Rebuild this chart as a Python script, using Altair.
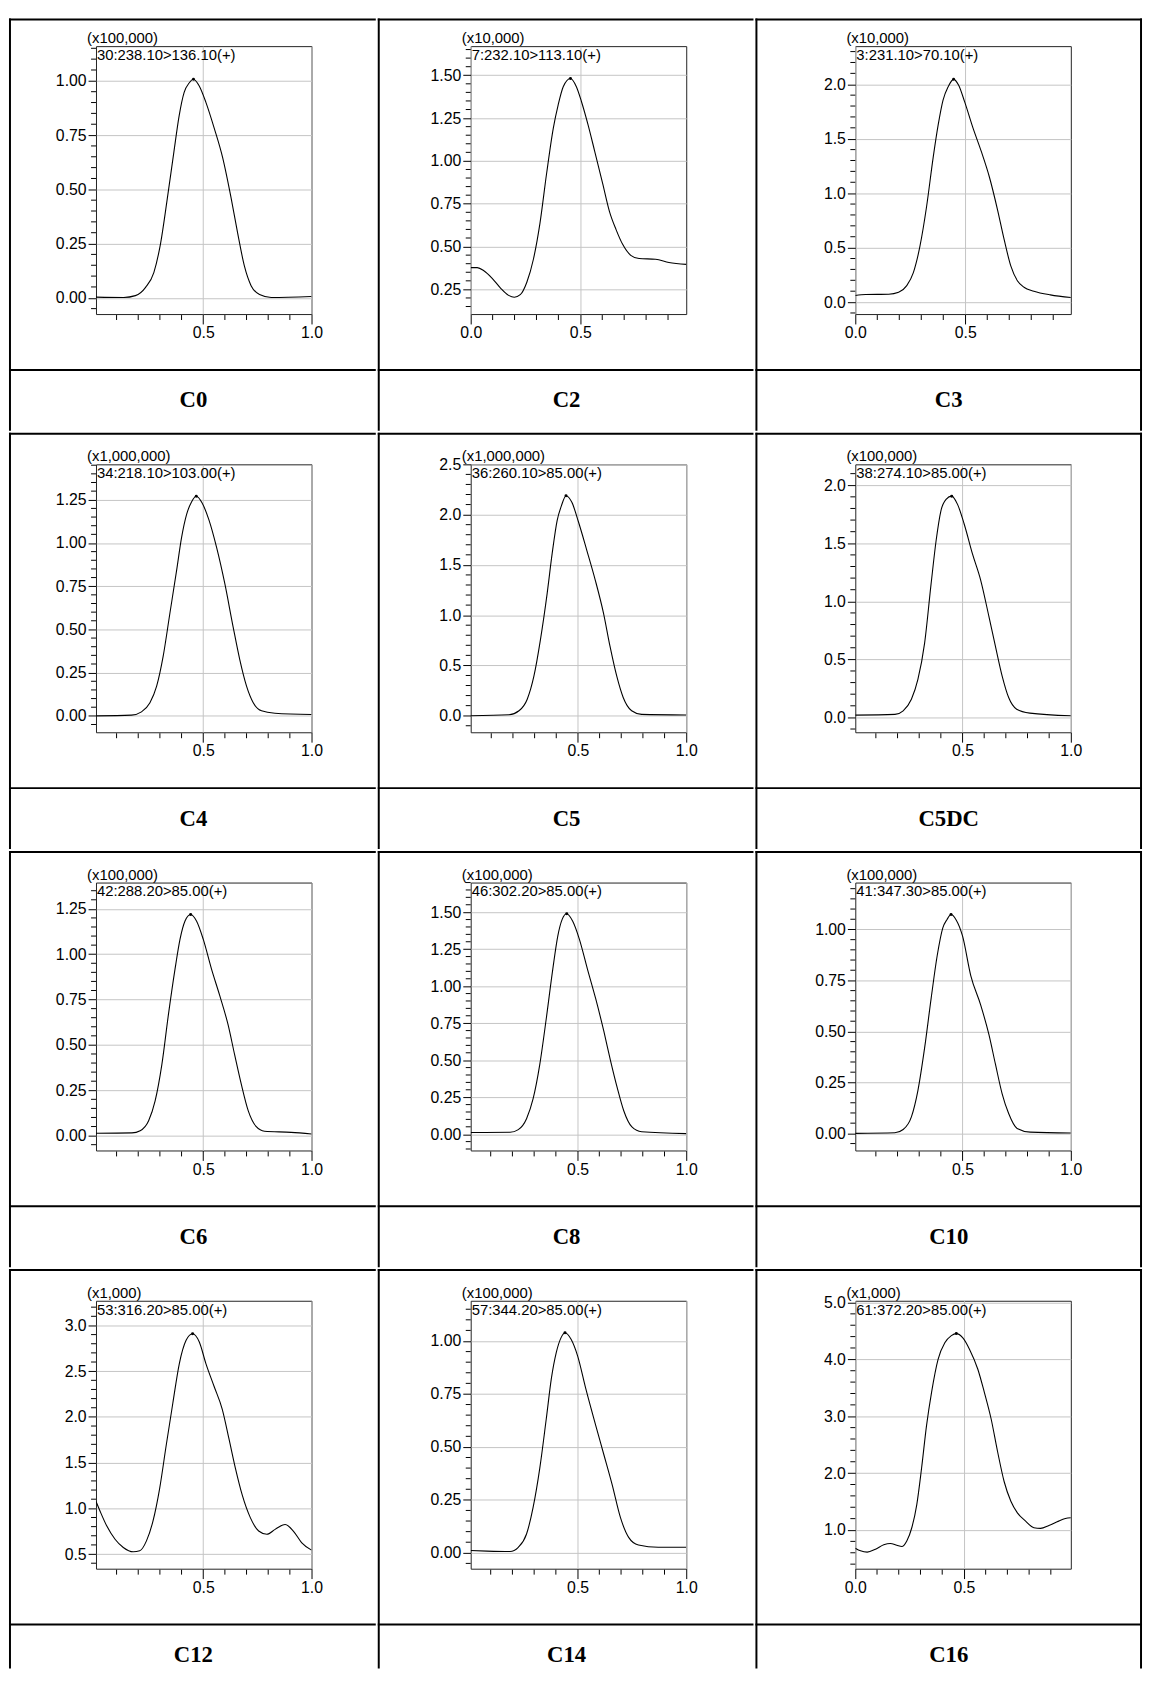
import math
import altair as alt
import pandas as pd

# ---------------- data ----------------
NAMES = ["C0", "C2", "C3", "C4", "C5", "C5DC", "C6", "C8", "C10", "C12", "C14", "C16"]
MULT = ["(x100,000)", "(x10,000)", "(x10,000)", "(x1,000,000)", "(x1,000,000)", "(x100,000)",
        "(x100,000)", "(x100,000)", "(x100,000)", "(x1,000)", "(x100,000)", "(x1,000)"]
MRM = ["30:238.10>136.10(+)", "7:232.10>113.10(+)", "3:231.10>70.10(+)",
       "34:218.10>103.00(+)", "36:260.10>85.00(+)", "38:274.10>85.00(+)",
       "42:288.20>85.00(+)", "46:302.20>85.00(+)", "41:347.30>85.00(+)",
       "53:316.20>85.00(+)", "57:344.20>85.00(+)", "61:372.20>85.00(+)"]

Y_LO = [-0.075, 0.106, -0.11, -0.095, -0.165, -0.128, -0.082, -0.11, -0.084, 0.34, -0.075, 0.32]
Y_HI = [1.16, 1.67, 2.35, 1.455, 2.5, 2.18, 1.395, 1.70, 1.23, 3.27, 1.19, 5.03]
Y_MAJOR = [0.25, 0.25, 0.5, 0.25, 0.5, 0.5, 0.25, 0.25, 0.25, 0.5, 0.25, 1.0]
Y_MINOR = [0.05, 0.05, 0.1, 0.05, 0.1, 0.1, 0.05, 0.05, 0.05, 0.1, 0.05, 0.2]
Y_FMT = [".2f", ".2f", ".1f", ".2f", ".1f", ".1f", ".2f", ".2f", ".2f", ".1f", ".2f", ".1f"]
X_LO = [0.005, 0.0, 0.0, 0.005, 0.005, 0.005, 0.005, 0.008, 0.005, 0.005, 0.008, 0.0]
X_HI = [1.0, 0.983, 0.98, 1.0, 1.0, 1.0, 1.0, 1.0, 1.0, 1.0, 1.0, 0.992]

C0_T = [0.005, 0.133, 0.187, 0.234, 0.272, 0.303, 0.334, 0.365, 0.389, 0.412, 0.435, 0.455, 0.481,
        0.512, 0.551, 0.59, 0.628, 0.659, 0.69, 0.721, 0.76, 0.814, 1.0]
C0_V = [0.003, 0.0015, 0.01, 0.048, 0.116, 0.25, 0.456, 0.675, 0.84, 0.947, 0.99, 1.007, 0.977,
        0.902, 0.781, 0.645, 0.464, 0.298, 0.147, 0.056, 0.015, 0.0015, 0.006]

C2_T = [0.0, 0.030, 0.060, 0.098, 0.136, 0.173, 0.199, 0.226, 0.256, 0.286, 0.316, 0.346, 0.377,
        0.399, 0.422, 0.455, 0.482, 0.505, 0.535, 0.565, 0.602, 0.633, 0.663, 0.693, 0.730, 0.768,
        0.843, 0.904, 0.983]
C2_V = [0.377, 0.377, 0.359, 0.315, 0.258, 0.215, 0.204, 0.219, 0.292, 0.426, 0.637, 0.925, 1.193,
        1.327, 1.433, 1.481, 1.433, 1.347, 1.212, 1.059, 0.867, 0.704, 0.599, 0.513, 0.449, 0.430,
        0.426, 0.407, 0.396]

C3_T = [0.0, 0.047, 0.152, 0.197, 0.234, 0.264, 0.294, 0.324, 0.354, 0.377, 0.399, 0.422, 0.447,
        0.470, 0.497, 0.535, 0.572, 0.610, 0.647, 0.677, 0.707, 0.737, 0.767, 0.812, 0.887, 0.98]
C3_V = [0.06, 0.069, 0.072, 0.09, 0.151, 0.271, 0.513, 0.875, 1.327, 1.629, 1.855, 1.976, 2.045,
        1.991, 1.84, 1.599, 1.388, 1.146, 0.845, 0.573, 0.332, 0.196, 0.136, 0.10, 0.066, 0.042]

C4_T = [0.005, 0.169, 0.215, 0.254, 0.285, 0.315, 0.346, 0.377, 0.40, 0.423, 0.446, 0.468, 0.495,
        0.526, 0.562, 0.60, 0.638, 0.669, 0.70, 0.731, 0.769, 0.831, 1.0]
C4_V = [0.0, 0.004, 0.023, 0.076, 0.172, 0.344, 0.592, 0.84, 1.031, 1.164, 1.237, 1.27, 1.231,
        1.135, 0.973, 0.763, 0.515, 0.324, 0.172, 0.076, 0.029, 0.015, 0.008]

C5_T = [0.005, 0.182, 0.228, 0.266, 0.297, 0.327, 0.358, 0.381, 0.404, 0.424, 0.445, 0.472, 0.503,
        0.541, 0.58, 0.618, 0.648, 0.679, 0.709, 0.748, 0.794, 1.0]
C5_V = [0.0, 0.01, 0.049, 0.164, 0.395, 0.757, 1.217, 1.612, 1.941, 2.089, 2.188, 2.122, 1.924,
        1.645, 1.349, 1.02, 0.691, 0.395, 0.181, 0.049, 0.013, 0.007]

C5DC_T = [0.005, 0.188, 0.226, 0.264, 0.294, 0.325, 0.355, 0.378, 0.40, 0.424, 0.45, 0.477, 0.508,
          0.546, 0.584, 0.622, 0.652, 0.683, 0.713, 0.75, 0.811, 1.0]
C5DC_V = [0.02, 0.026, 0.057, 0.156, 0.327, 0.64, 1.152, 1.522, 1.778, 1.878, 1.906, 1.835, 1.664,
          1.408, 1.181, 0.868, 0.612, 0.356, 0.171, 0.071, 0.037, 0.014]

C6_T = [0.005, 0.171, 0.209, 0.248, 0.278, 0.309, 0.339, 0.37, 0.393, 0.416, 0.442, 0.469, 0.50,
        0.538, 0.576, 0.615, 0.645, 0.676, 0.708, 0.745, 0.783, 0.906, 1.0]
C6_V = [0.013, 0.015, 0.027, 0.082, 0.191, 0.391, 0.664, 0.919, 1.083, 1.183, 1.219, 1.183, 1.083,
        0.919, 0.773, 0.61, 0.446, 0.282, 0.136, 0.049, 0.024, 0.018, 0.009]

C8_T = [0.008, 0.189, 0.227, 0.265, 0.295, 0.326, 0.356, 0.386, 0.409, 0.429, 0.45, 0.477, 0.508,
        0.545, 0.583, 0.621, 0.652, 0.682, 0.712, 0.75, 0.795, 1.0]
C8_V = [0.011, 0.013, 0.031, 0.105, 0.238, 0.472, 0.783, 1.117, 1.34, 1.451, 1.489, 1.44, 1.318,
        1.117, 0.917, 0.694, 0.494, 0.316, 0.16, 0.049, 0.016, 0.004]

C10_T = [0.005, 0.188, 0.226, 0.264, 0.294, 0.325, 0.355, 0.383, 0.409, 0.428, 0.447, 0.47, 0.50,
         0.538, 0.584, 0.622, 0.652, 0.683, 0.713, 0.752, 0.813, 1.0]
C10_V = [0.0, 0.003, 0.019, 0.081, 0.21, 0.419, 0.661, 0.871, 1.008, 1.048, 1.073, 1.048, 0.968,
         0.774, 0.629, 0.484, 0.339, 0.194, 0.097, 0.024, 0.006, 0.002]

C12_T = [0.005, 0.024, 0.055, 0.093, 0.131, 0.177, 0.207, 0.238, 0.268, 0.299, 0.329, 0.36, 0.39,
         0.421, 0.451, 0.482, 0.512, 0.55, 0.588, 0.619, 0.649, 0.68, 0.718, 0.756, 0.794, 0.832,
         0.878, 0.916, 0.954, 1.0]
C12_V = [1.076, 0.968, 0.806, 0.662, 0.572, 0.525, 0.536, 0.644, 0.86, 1.219, 1.687, 2.155, 2.586,
         2.838, 2.91, 2.82, 2.586, 2.335, 2.083, 1.759, 1.435, 1.147, 0.896, 0.752, 0.716, 0.77,
         0.824, 0.752, 0.626, 0.543]

C14_T = [0.008, 0.083, 0.189, 0.227, 0.265, 0.295, 0.326, 0.356, 0.379, 0.402, 0.424, 0.442, 0.47,
         0.50, 0.538, 0.583, 0.621, 0.659, 0.697, 0.735, 0.78, 0.871, 1.0]
C14_V = [0.011, 0.008, 0.006, 0.026, 0.089, 0.213, 0.40, 0.634, 0.821, 0.946, 1.016, 1.039, 1.008,
         0.93, 0.774, 0.603, 0.463, 0.322, 0.167, 0.073, 0.037, 0.026, 0.026]

C16_T = [0.0, 0.024, 0.055, 0.093, 0.131, 0.161, 0.191, 0.214, 0.237, 0.26, 0.283, 0.305, 0.328,
         0.351, 0.381, 0.412, 0.442, 0.465, 0.495, 0.526, 0.564, 0.594, 0.625, 0.655, 0.685, 0.716,
         0.746, 0.784, 0.822, 0.853, 0.891, 0.929, 0.967, 0.992]
C16_V = [0.681, 0.634, 0.611, 0.663, 0.739, 0.762, 0.733, 0.71, 0.808, 1.04, 1.447, 2.085, 2.84,
         3.42, 4.0, 4.29, 4.418, 4.453, 4.378, 4.175, 3.826, 3.42, 2.956, 2.376, 1.853, 1.505,
         1.302, 1.157, 1.04, 1.029, 1.081, 1.145, 1.203, 1.215]

SERIES_T = [C0_T, C2_T, C3_T, C4_T, C5_T, C5DC_T, C6_T, C8_T, C10_T, C12_T, C14_T, C16_T]
SERIES_V = [C0_V, C2_V, C3_V, C4_V, C5_V, C5DC_V, C6_V, C8_V, C10_V, C12_V, C14_V, C16_V]

X_MAJOR = 0.5
X_MINOR = 0.1

# ---------------- layout / style ----------------
PLOT_W, PLOT_H = 218, 271
COL_L = [87, 93, 100]       # frame-left to cell border
COL_R = [66, 69, 71]        # frame-left+width to next border
ROW_T = [27, 31, 31, 31]    # border above frame
ROW_B = 390                 # next border below frame top
LAST_B = 372
DIV_Y = 327.5
LAB_Y = 358.5
SANS = "Liberation Sans"
SERIF = "Liberation Serif"
GRID = "#c4c4c4"

one = pd.DataFrame({"k": [0]})


def steps(lo, hi, step):
    k0 = math.ceil(lo / step - 1e-9)
    k1 = math.floor(hi / step + 1e-9)
    return [round(k * step, 6) for k in range(k0, k1 + 1)]


def is_major(v, major):
    return abs(v / major - round(v / major)) < 1e-6


def bar(x1, x2, y1, y2):
    # table border drawn as a filled 2px rectangle (exact bounds, no stroke growth)
    return alt.Chart(one).mark_rect(color="#000", strokeWidth=0).encode(
        x=alt.value(x1), x2=alt.value(x2), y=alt.value(y1), y2=alt.value(y2))


def cell(i):
    r, c = divmod(i, 3)
    L, R, T = COL_L[c], COL_R[c], ROW_T[r]
    last = r == 3
    B = LAST_B if last else ROW_B
    xl, xr = -L, PLOT_W + R

    ally = steps(Y_LO[i], Y_HI[i], Y_MINOR[i])
    y_major = [v for v in ally if is_major(v, Y_MAJOR[i])]
    y_minor = [v for v in ally if not is_major(v, Y_MAJOR[i])]
    allx = steps(X_LO[i], X_HI[i], X_MINOR)
    x_major = [v for v in allx if is_major(v, X_MAJOR)]
    x_minor = [v for v in allx if not is_major(v, X_MAJOR)]

    df = pd.DataFrame({"t": SERIES_T[i], "v": SERIES_V[i]})
    kmax = max(range(len(SERIES_V[i])), key=lambda k: SERIES_V[i][k])
    peak = pd.DataFrame({"t": [SERIES_T[i][kmax]], "v": [SERIES_V[i][kmax]]})

    xs = alt.Scale(domain=[X_LO[i], X_HI[i]], nice=False, zero=False)
    ys = alt.Scale(domain=[Y_LO[i], Y_HI[i]], nice=False, zero=False)

    x_axis = alt.Axis(values=x_major, title=None, domain=False, grid=True, format=".1f",
                      labelFlush=False, labelOverlap=False, labelFont=SANS, labelFontSize=16,
                      labelColor="#000", labelPadding=1, tickColor="#000", tickWidth=1,
                      tickSize=10, gridColor=GRID, gridWidth=1)
    y_axis = alt.Axis(values=y_major, title=None, domain=False, grid=True, format=Y_FMT[i],
                      labelOverlap=False, labelFont=SANS, labelFontSize=16, labelColor="#000",
                      labelPadding=2, tickColor="#000", tickWidth=1, tickSize=8,
                      gridColor=GRID, gridWidth=1)

    line = alt.Chart(df).mark_line(color="#000", strokeWidth=1.1, interpolate="monotone",
                                   clip=True).encode(
        x=alt.X("t:Q", scale=xs, axis=x_axis),
        y=alt.Y("v:Q", scale=ys, axis=y_axis))
    pk = alt.Chart(peak).mark_point(shape="circle", filled=True, size=9, color="#000",
                                    opacity=1).encode(
        x=alt.X("t:Q", scale=xs), y=alt.Y("v:Q", scale=ys))

    ymin_df = pd.DataFrame({"v": y_minor})
    xmin_df = pd.DataFrame({"t": x_minor})
    yminor = alt.Chart(ymin_df).mark_rule(color="#000", strokeWidth=1).encode(
        y=alt.Y("v:Q", scale=ys), x=alt.value(-5), x2=alt.value(0))
    xminor = alt.Chart(xmin_df).mark_rule(color="#000", strokeWidth=1).encode(
        x=alt.X("t:Q", scale=xs), y=alt.value(PLOT_H + 1), y2=alt.value(PLOT_H + 6))

    mult = alt.Chart(one).mark_text(text=MULT[i], align="left", baseline="alphabetic",
                                    font=SANS, fontSize=15, color="#000").encode(
        x=alt.value(-9), y=alt.value(-3))
    mrm = alt.Chart(one).mark_text(text=MRM[i], align="left", baseline="top",
                                   font=SANS, fontSize=15, color="#000").encode(
        x=alt.value(1), y=alt.value(2))
    name = alt.Chart(one).mark_text(text=NAMES[i], align="center", baseline="middle",
                                    font=SERIF, fontSize=23, fontWeight="bold",
                                    color="#000").encode(
        x=alt.value((xl + xr) / 2), y=alt.value(LAB_Y))

    right_end = xr + 1 if c == 2 else xr - 1
    bottom_end = B if last else B - 1
    deco = [
        bar(xl - 1, right_end, -T - 1, -T + 1),             # top border
        bar(xl - 1, right_end, DIV_Y - 1, DIV_Y + 1),       # divider above the name row
        bar(xl - 1, xl + 1, -T - 1, bottom_end),            # left border
    ]
    if c == 2:
        deco.append(bar(xr - 1, xr + 1, -T - 1, bottom_end))  # right border

    return alt.layer(line, pk, yminor, xminor, mult, mrm, name, *deco).properties(
        width=PLOT_W, height=PLOT_H)


rows = [alt.hconcat(*[cell(3 * r + c) for c in range(3)], spacing=0, bounds="full")
        for r in range(4)]
chart = alt.vconcat(*rows, spacing=0, bounds="full").properties(
    padding=0, background="white"
).configure_view(stroke="#222", strokeWidth=1, fill="white")

chart.save("out.html", embed_options={"renderer": "svg", "actions": False})
